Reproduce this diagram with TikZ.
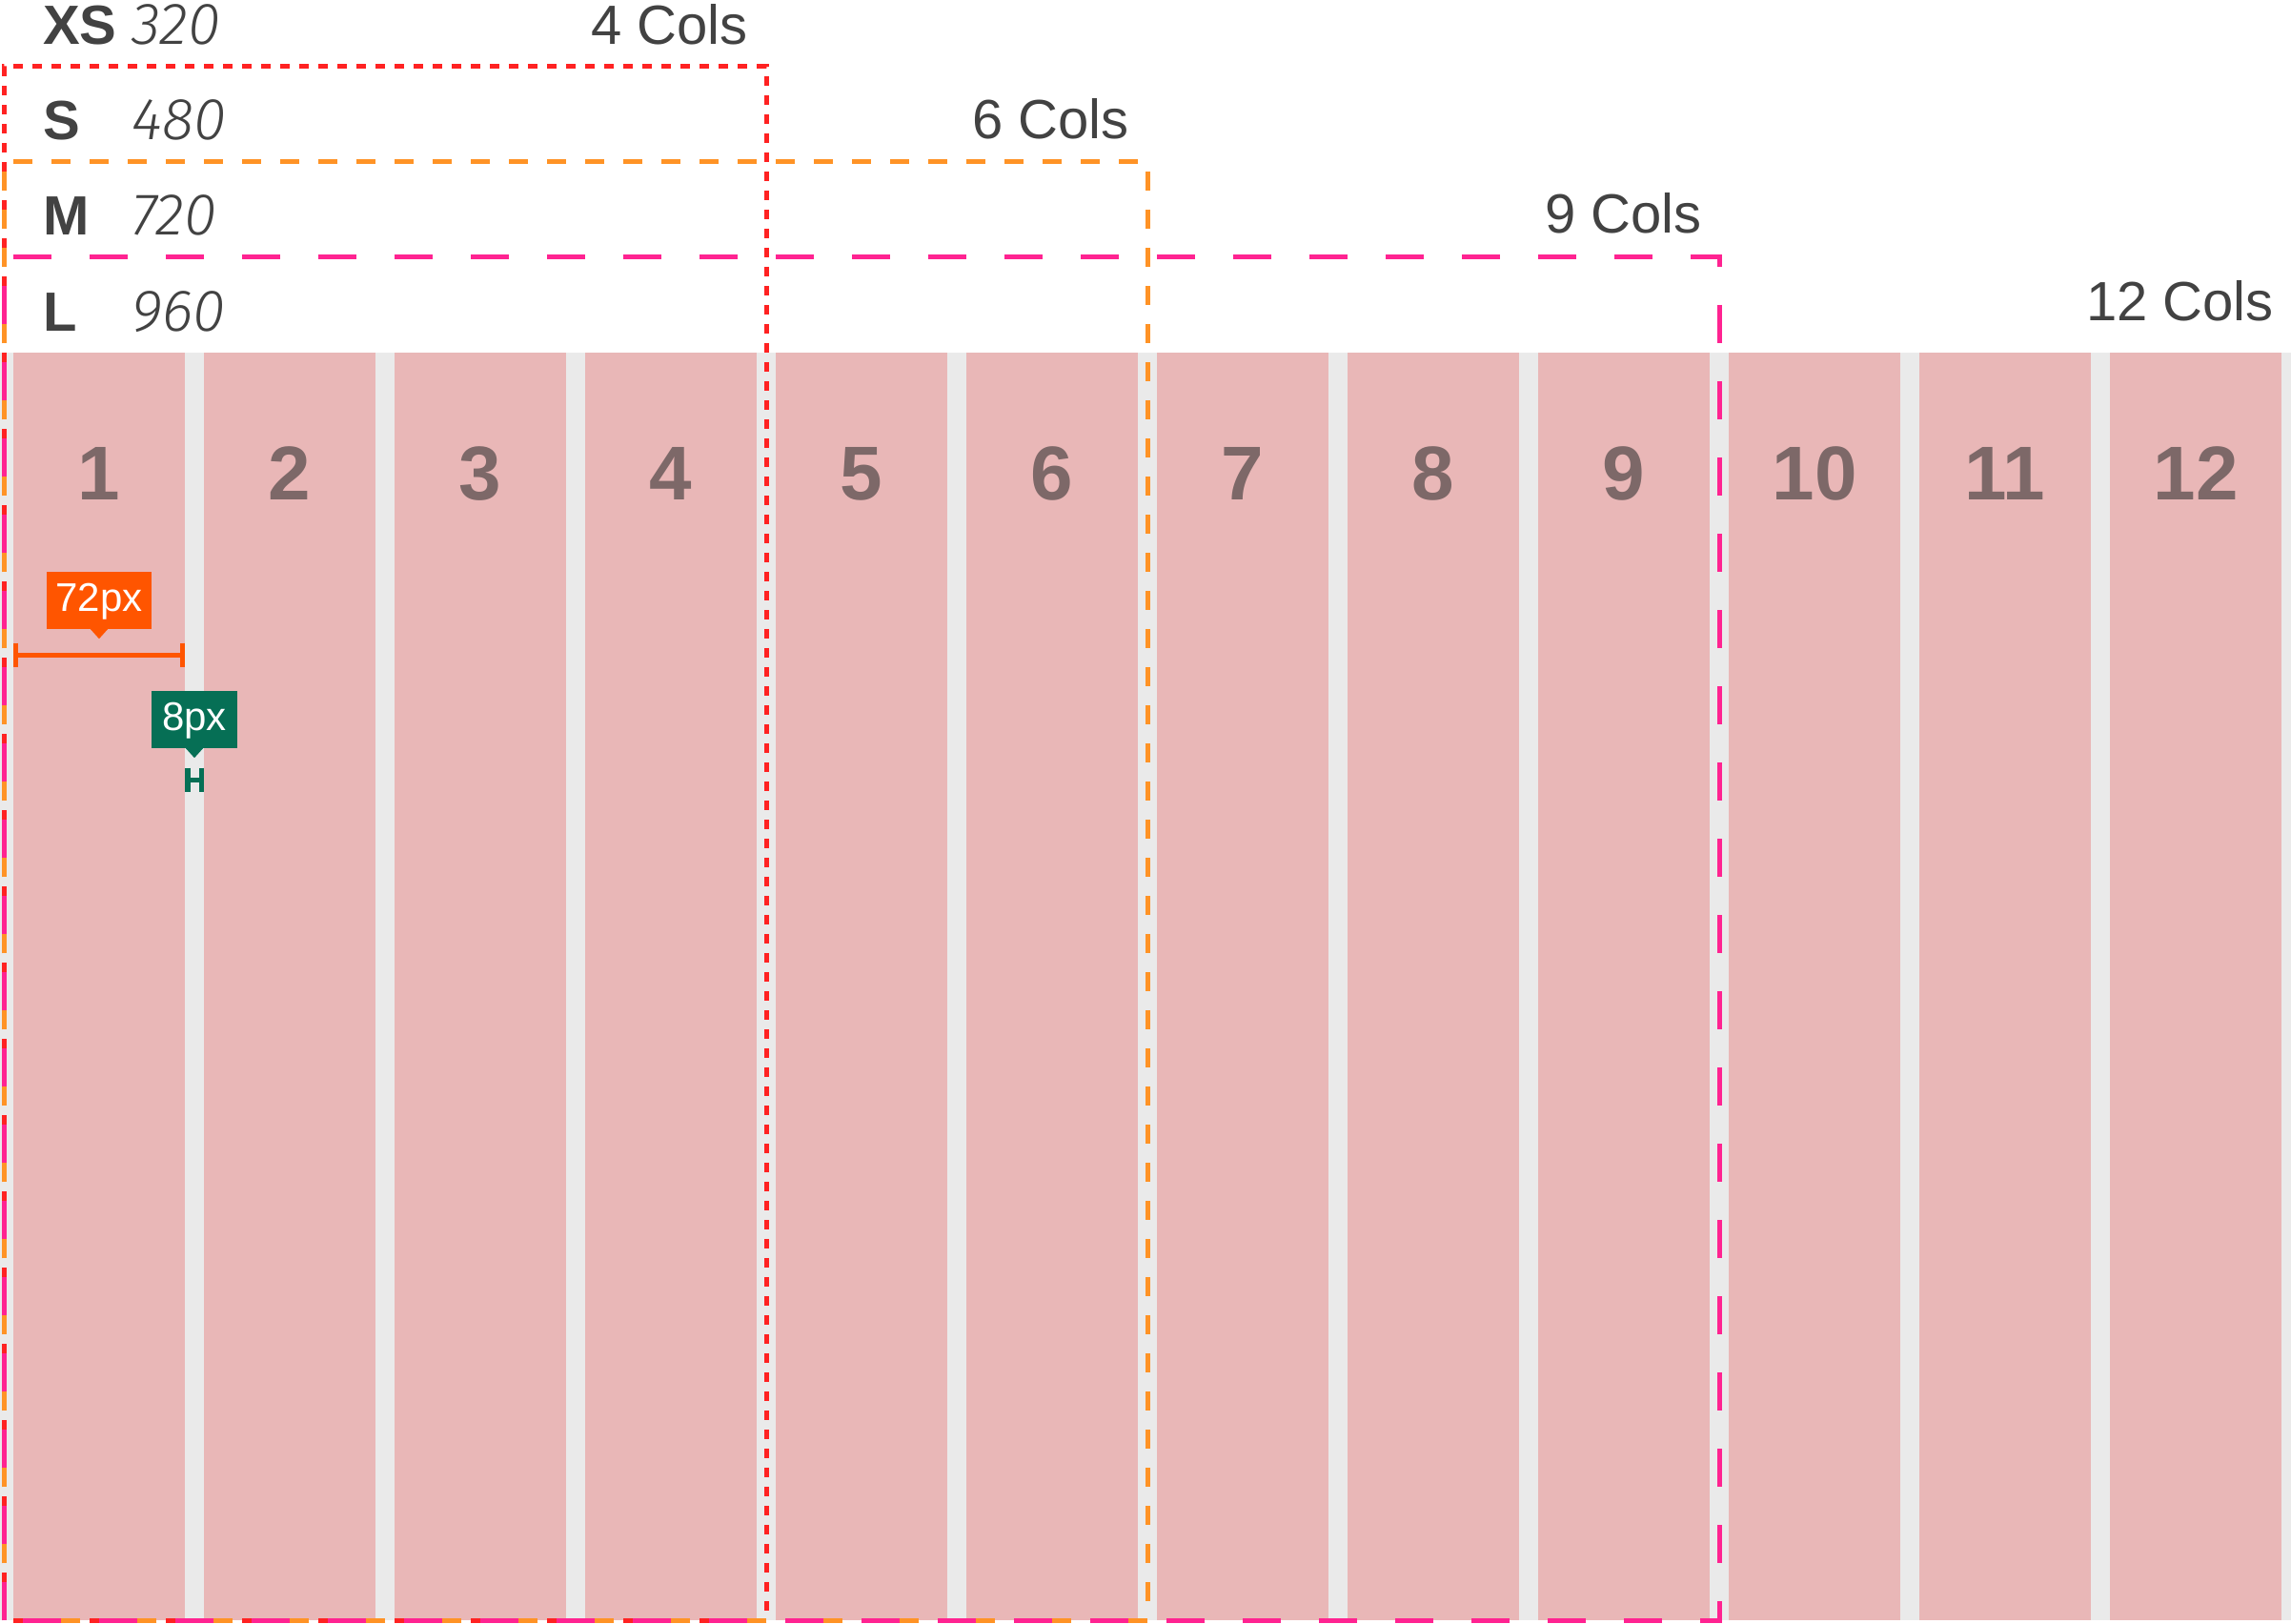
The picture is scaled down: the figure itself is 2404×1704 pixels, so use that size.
\documentclass[tikz,border=0pt]{standalone}
\usepackage{fontspec}
\setmainfont{Liberation Sans}
\newfontfamily\lightit{Fira Sans Light Italic}
\usetikzlibrary{calc}
\definecolor{gridbg}{HTML}{EAEAEA}
\definecolor{colpink}{HTML}{E9B7B7}
\definecolor{numcol}{HTML}{7D6868}
\definecolor{txt}{HTML}{424242}
\definecolor{lnred}{HTML}{FF2222}
\definecolor{lnorange}{HTML}{FF9326}
\definecolor{lnpink}{HTML}{FF2391}
\definecolor{tiporange}{HTML}{FF5500}
\definecolor{tipgreen}{HTML}{066F55}
\tikzset{
  sizelbl/.style={anchor=base west, inner sep=0pt, text=txt, font=\fontsize{58}{70}\selectfont\bfseries},
  widthlbl/.style={anchor=base west, inner sep=0pt, text=txt, font=\fontsize{62}{70}\selectfont\lightit},
  colslbl/.style={anchor=base east, inner sep=0pt, text=txt, font=\fontsize{58}{70}\selectfont},
  numlbl/.style={anchor=base, inner sep=0pt, text=numcol, font=\fontsize{80}{90}\selectfont\bfseries},
  tipbox/.style={rectangle, inner sep=0pt, text=white, minimum height=60pt, text height=31pt, text depth=9pt, font=\fontsize{42}{50}\selectfont},
  boxline/.style={line width=5pt},
}
\begin{document}
\begin{tikzpicture}[x=1pt,y=-1pt]
\useasboundingbox (0,0) rectangle (2404,1704);
\fill[white] (0,0) rectangle (2404,1704);
% grid background and columns
\fill[gridbg] (0,370) rectangle (2404,1700);
\foreach \i in {1,...,12} {
  \fill[colpink] ({14+200*(\i-1)},370) rectangle ({194+200*(\i-1)},1700);
  \node[numlbl] (n\i) at ({104+200*(\i-1)},524) {\i};
}
% breakpoint labels
\node[sizelbl] (xs) at (45,47) {XS};
\node[widthlbl] (w320) at (138,47) {320};
\node[sizelbl] (s) at (45,147) {S};
\node[widthlbl] (w480) at (138,147) {480};
\node[sizelbl] (m) at (45,247) {M};
\node[widthlbl] (w720) at (138,247) {720};
\node[sizelbl] (l) at (45,347) {L};
\node[widthlbl] (w960) at (138,347) {960};
% column count labels
\node[colslbl] (c4) at (785,47) {4 Cols};
\node[colslbl] (c6) at (1185,146) {6 Cols};
\node[colslbl] (c9) at (1786,245) {9 Cols};
\node[colslbl] (c12) at (2386,336) {12 Cols};
% 72px tooltip and dimension
\node[tipbox, fill=tiporange, minimum width=110pt] (tip72) at (104,630) {72px};
\fill[tiporange] ($(tip72.south)+(-9.5,-0.5)$) -- ($(tip72.south)+(0,10)$) -- ($(tip72.south)+(9.5,-0.5)$) -- cycle;
\coordinate (d1) at (14,687);
\coordinate (d2) at (194,687);
\draw[tiporange, line width=5pt] (d1) -- (d2);
\draw[tiporange, line width=5pt] ($(d1)+(2.5,-12.5)$) -- ($(d1)+(2.5,12.5)$);
\draw[tiporange, line width=5pt] ($(d2)+(-2.5,-12.5)$) -- ($(d2)+(-2.5,12.5)$);
% 8px tooltip and gutter marker
\node[tipbox, fill=tipgreen, minimum width=90pt] (tip8) at (204,755) {8px};
\fill[tipgreen] ($(tip8.south)+(-9.5,-0.5)$) -- ($(tip8.south)+(0,10)$) -- ($(tip8.south)+(9.5,-0.5)$) -- cycle;
\coordinate (g1) at (194,818);
\coordinate (g2) at (214,818);
\draw[tipgreen, line width=5pt] (g1) -- (g2);
\draw[tipgreen, line width=5.5pt] ($(g1)+(2.75,-12.5)$) -- ($(g1)+(2.75,12.5)$);
\draw[tipgreen, line width=5.5pt] ($(g2)+(-2.75,-12.5)$) -- ($(g2)+(-2.75,12.5)$);
% breakpoint frames
\draw[boxline, lnred, dash pattern=on 10pt off 10pt] (4,1700) -- (4,70) -- (804,70) -- (804,1700) -- cycle;
\draw[boxline, lnorange, dash pattern=on 20pt off 20pt, dash phase=20pt] (4,1700) -- (4,170) -- (1204,170) -- (1204,1700) -- cycle;
\draw[boxline, lnpink, dash pattern=on 40pt off 40pt] (4,1700) -- (4,270) -- (1804,270) -- (1804,1700) -- cycle;
\end{tikzpicture}
\end{document}
